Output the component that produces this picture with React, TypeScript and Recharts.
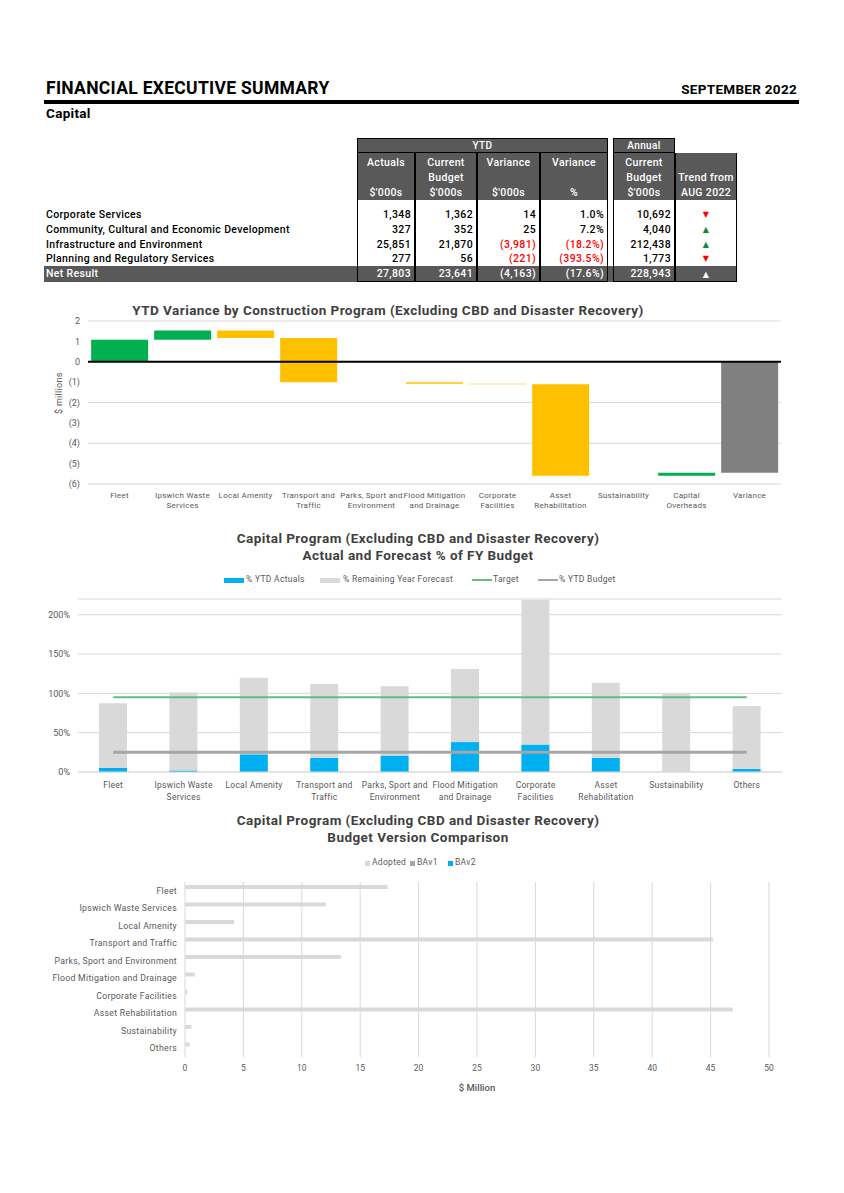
import React from 'react'
import {
  BarChart, Bar, ComposedChart, Line, XAxis, YAxis, CartesianGrid, ReferenceLine, Cell,
} from 'recharts'

// ---- table data ($'000s) ----
const rowLabels = [
  'Corporate Services',
  'Community, Cultural and Economic Development',
  'Infrastructure and Environment',
  'Planning and Regulatory Services',
]
const actuals = [1348, 327, 25851, 277]
const currentBudget = [1362, 352, 21870, 56]
const varianceAmt = [14, 25, -3981, -221]
const variancePct = [1.0, 7.2, -18.2, -393.5]
const annualBudget = [10692, 4040, 212438, 1773]
const trend = ['down', 'up', 'up', 'down']
const netResult = { actual: 27803, budget: 23641, variance: -4163, pct: -17.6, annual: 228943, trend: 'up' }

// ---- waterfall ($ millions) ----
const wfCategories = [
  'Fleet', 'Ipswich Waste Services', 'Local Amenity', 'Transport and Traffic',
  'Parks, Sport and Environment', 'Flood Mitigation and Drainage', 'Corporate Facilities',
  'Asset Rehabilitation', 'Sustainability', 'Capital Overheads', 'Variance',
]
const wfChange = [1.08, 0.45, -0.36, -2.17, -0.01, -0.07, -0.03, -4.49, 0, 0.15]

// ---- capital program % of FY budget ----
const progCategories = [
  'Fleet', 'Ipswich Waste Services', 'Local Amenity', 'Transport and Traffic',
  'Parks, Sport and Environment', 'Flood Mitigation and Drainage', 'Corporate Facilities',
  'Asset Rehabilitation', 'Sustainability', 'Others',
]
const ytdActualPct = [0.055, 0.02, 0.225, 0.18, 0.21, 0.38, 0.35, 0.18, 0, 0.04]
const remainingPct = [0.82, 0.99, 0.975, 0.94, 0.88, 0.93, 1.84, 0.955, 1.0, 0.8]
const targetPct = [0.95, 0.95, 0.95, 0.95, 0.95, 0.95, 0.95, 0.95, 0.95, 0.95]
const ytdBudgetPct = [0.25, 0.25, 0.25, 0.25, 0.25, 0.25, 0.25, 0.25, 0.25, 0.25]

// ---- budget versions ($ million) ----
const adopted = [17.35, 12.05, 4.2, 45.2, 13.35, 0.85, 0.2, 46.9, 0.55, 0.4]
const bav1 = [0, 0, 0, 0, 0, 0, 0, 0, 0, 0]
const bav2 = [0, 0, 0, 0, 0, 0, 0, 0, 0, 0]

const FONT = 'Roboto, "DejaVu Sans", sans-serif'
const DARK = '#595959'
const GREEN = '#00B050'
const AMBER = '#FFC000'
const BLUE = '#00B0F0'
const LIGHT = '#D9D9D9'
const MID = '#A6A6A6'

let cum = 0
const wfData = wfCategories.map((name, i) => {
  if (i === wfChange.length) {
    return { name, range: [Math.min(0, cum), Math.max(0, cum)], color: '#808080' }
  }
  const start = cum
  cum = cum + wfChange[i]
  return { name, range: [Math.min(start, cum), Math.max(start, cum)], color: wfChange[i] >= 0 ? GREEN : AMBER }
})

const progData = progCategories.map((name, i) => ({
  name, actual: ytdActualPct[i], remaining: remainingPct[i], target: targetPct[i], budget: ytdBudgetPct[i],
}))

const versionData = progCategories.map((name, i) => ({
  name, adopted: adopted[i], bav1: bav1[i], bav2: bav2[i],
}))

const fmtNum = (v: number) => (v < 0 ? `(${Math.abs(v).toLocaleString('en-US')})` : v.toLocaleString('en-US'))
const fmtPct = (v: number) => (v < 0 ? `(${Math.abs(v).toFixed(1)}%)` : `${v.toFixed(1)}%`)

function wrap(text: string, max: number) {
  const words = text.split(' ')
  const lines: string[] = []
  let cur = ''
  words.forEach(w => {
    const next = cur ? cur + ' ' + w : w
    if (next.length > max && cur) {
      lines.push(cur)
      cur = w
    } else cur = next
  })
  if (cur) lines.push(cur)
  return lines
}

const makeTick = (fontSize: number, lineH: number, firstDy: number) => (props: any) => {
  const { x, y, payload } = props
  return (
    <g transform={`translate(${x},${y})`}>
      {wrap(payload.value, 16).map((l, i) => (
        <text key={i} x={0} y={firstDy + i * lineH} textAnchor="middle" fontSize={fontSize}
          fill={DARK} fontFamily={FONT} letterSpacing={0.25}>{l}</text>
      ))}
    </g>
  )
}

const CategoryTick = (props: any) => {
  const { x, y, payload } = props
  return (
    <text x={x} y={y} dy={3} textAnchor="end" fontSize={8.7} fill={DARK} fontFamily={FONT} letterSpacing={0.3}>
      {payload.value}
    </text>
  )
}

const abs = (left: number, top: number, extra: React.CSSProperties = {}): React.CSSProperties => ({
  position: 'absolute', left, top, ...extra,
})

// table columns [left, right]
const cols = [[357, 415], [415, 477], [477, 540], [540, 608], [613, 675], [675, 737]]
const headLines = [
  ['Actuals', '', "$'000s"],
  ['Current', 'Budget', "$'000s"],
  ['Variance', '', "$'000s"],
  ['Variance', '', '%'],
  ['Current', 'Budget', "$'000s"],
  ['', 'Trend from', 'AUG 2022'],
]
const rowTops = [207, 221.8, 236.6, 251.4]

function Arrow({ dir, color, top }: { dir: string; color: string; top: number }) {
  return (
    <div style={abs(675, top, { width: 62, textAlign: 'center', fontSize: 8, color, lineHeight: '15px' })}>
      {dir === 'up' ? '▲' : '▼'}
    </div>
  )
}

function Table() {
  const cell = (text: string, c: number, top: number, color: string, h = 15) => (
    <div style={abs(cols[c][0], top, {
      width: cols[c][1] - cols[c][0] - 4, textAlign: 'right', lineHeight: `${h}px`, color,
    })}>{text}</div>
  )
  return (
    <div style={{ fontFamily: FONT, fontSize: 10.5, fontWeight: 500, letterSpacing: 0.35 }}>
      <div style={abs(357, 138, { width: 251, height: 15, background: DARK, boxSizing: 'border-box', border: '1px solid #000', color: '#fff', textAlign: 'center', lineHeight: '13px', fontSize: 10 })}>YTD</div>
      <div style={abs(613, 138, { width: 62, height: 15, background: DARK, boxSizing: 'border-box', border: '1px solid #000', color: '#fff', textAlign: 'center', lineHeight: '13px', fontSize: 10 })}>Annual</div>
      <div style={abs(44, 266, { width: 693, height: 16, background: DARK })} />
      {cols.map(([l, r], i) => (
        <div key={i} style={abs(l, 153, { width: r - l, height: 129, boxSizing: 'border-box', border: '1px solid #000', borderTop: 'none' })}>
          <div style={{ height: 47, background: DARK, color: '#fff', textAlign: 'center', paddingTop: 2, boxSizing: 'border-box', fontSize: 10.5 }}>
            {headLines[i].map((t, k) => <div key={k} style={{ height: 15, lineHeight: '15px' }}>{t}</div>)}
          </div>
        </div>
      ))}
      {rowLabels.map((label, r) => (
        <React.Fragment key={label}>
          <div style={abs(46, rowTops[r], { lineHeight: '15px', color: '#000' })}>{label}</div>
          {cell(fmtNum(actuals[r]), 0, rowTops[r], '#000')}
          {cell(fmtNum(currentBudget[r]), 1, rowTops[r], '#000')}
          {cell(fmtNum(varianceAmt[r]), 2, rowTops[r], varianceAmt[r] < 0 ? '#FF0000' : '#000')}
          {cell(fmtPct(variancePct[r]), 3, rowTops[r], variancePct[r] < 0 ? '#FF0000' : '#000')}
          {cell(fmtNum(annualBudget[r]), 4, rowTops[r], '#000')}
          <Arrow dir={trend[r]} color={trend[r] === 'up' ? '#118A2E' : '#FF0000'} top={rowTops[r]} />
        </React.Fragment>
      ))}
      <div style={abs(46, 266, { lineHeight: '16px', color: '#fff' })}>Net Result</div>
      {cell(fmtNum(netResult.actual), 0, 266, '#fff', 16)}
      {cell(fmtNum(netResult.budget), 1, 266, '#fff', 16)}
      {cell(fmtNum(netResult.variance), 2, 266, '#fff', 16)}
      {cell(fmtPct(netResult.pct), 3, 266, '#fff', 16)}
      {cell(fmtNum(netResult.annual), 4, 266, '#fff', 16)}
      <Arrow dir={netResult.trend} color="#fff" top={266.5} />
    </div>
  )
}

const titleStyle = (top: number, center = 418): React.CSSProperties => ({
  position: 'absolute', left: center - 400, top, width: 800, textAlign: 'center', fontFamily: FONT,
  fontWeight: 700, fontSize: 13.5, color: '#404040', lineHeight: '16.5px', letterSpacing: 0.45,
})

const legendText: React.CSSProperties = { fontFamily: FONT, fontSize: 8.5, color: DARK, letterSpacing: 0.3 }

export default function App() {
  return (
    <div style={{ position: 'absolute', left: 0, top: 0, width: 844, height: 1193, background: '#fff', fontFamily: FONT }}>
      {/* page header */}
      <div style={abs(46, 78, { fontSize: 17.5, fontWeight: 700, color: '#000', letterSpacing: 0.3 })}>FINANCIAL EXECUTIVE SUMMARY</div>
      <div style={abs(560, 81, { width: 237, textAlign: 'right', fontSize: 13.5, fontWeight: 700, color: '#000', letterSpacing: 0.3 })}>SEPTEMBER 2022</div>
      <div style={abs(44, 100, { width: 755, height: 4, background: '#000' })} />
      <div style={abs(46, 105, { fontSize: 13.5, fontWeight: 700, color: '#000', letterSpacing: 0.3 })}>Capital</div>

      <Table />

      {/* waterfall */}
      <div style={titleStyle(302, 388)}>YTD Variance by Construction Program (Excluding CBD and Disaster Recovery)</div>
      <div style={abs(54, 414, { transform: 'rotate(-90deg)', transformOrigin: 'left top', fontSize: 9, color: DARK, letterSpacing: 0.3, width: 60, lineHeight: '11px' })}>$ millions</div>
      <div style={abs(30, 315)}>
        <BarChart width={760} height={205} data={wfData} margin={{ top: 6, right: 9, left: 0, bottom: 0 }} barCategoryGap="5%">
          <CartesianGrid vertical={false} stroke={LIGHT} />
          <XAxis dataKey="name" axisLine={false} tickLine={false} tickSize={0} tickMargin={0} height={36}
            interval={0} tick={makeTick(8, 10, 14)} />
          <YAxis width={58} domain={[-6, 2]} ticks={[-6, -5, -4, -3, -2, -1, 0, 1, 2]} axisLine={false} tickLine={false}
            tickFormatter={(v: number) => (v < 0 ? `(${-v})` : `${v}`)}
            tick={{ fontSize: 9, fill: DARK, fontFamily: FONT }} />
          <Bar dataKey="range" isAnimationActive={false}>
            {wfData.map((d, i) => <Cell key={i} fill={d.color} />)}
          </Bar>
          <ReferenceLine y={0} stroke="#000" strokeWidth={2} />
        </BarChart>
      </div>

      {/* capital program % */}
      <div style={titleStyle(530)}>Capital Program (Excluding CBD and Disaster Recovery)<br />Actual and Forecast % of FY Budget</div>
      <div style={abs(0, 574, { width: 844, height: 12 })}>
        <div style={abs(224, 3.5, { width: 20, height: 5, background: BLUE })} />
        <div style={abs(246, 0, legendText)}>% YTD Actuals</div>
        <div style={abs(320, 3.5, { width: 20, height: 5, background: LIGHT })} />
        <div style={abs(343, 0, legendText)}>% Remaining Year Forecast</div>
        <div style={abs(472, 5, { width: 20, height: 2, background: '#63BE7B' })} />
        <div style={abs(493, 0, legendText)}>Target</div>
        <div style={abs(538, 5, { width: 20, height: 2, background: MID })} />
        <div style={abs(559, 0, legendText)}>% YTD Budget</div>
      </div>
      <div style={abs(20, 590)}>
        <ComposedChart width={770} height={220} data={progData} margin={{ top: 9, right: 8, left: 0, bottom: 0 }}>
          <CartesianGrid vertical={false} stroke={LIGHT} />
          <XAxis dataKey="name" axisLine={{ stroke: LIGHT }} tickLine={false} tickSize={0} tickMargin={0} height={38}
            interval={0} tick={makeTick(8.5, 12, 16)} />
          <YAxis width={58} domain={[0, 2.2]} ticks={[0, 0.5, 1, 1.5, 2]} axisLine={false} tickLine={false}
            allowDataOverflow tickFormatter={(v: number) => `${Math.round(v * 100)}%`}
            tick={{ fontSize: 9, fill: DARK, fontFamily: FONT }} />
          <Bar dataKey="actual" stackId="p" fill={BLUE} barSize={28} isAnimationActive={false} />
          <Bar dataKey="remaining" stackId="p" fill={LIGHT} barSize={28} isAnimationActive={false} />
          <Line dataKey="target" stroke="#63BE7B" strokeWidth={2} dot={false} isAnimationActive={false} />
          <Line dataKey="budget" stroke={MID} strokeWidth={3} dot={false} isAnimationActive={false} />
        </ComposedChart>
      </div>

      {/* budget version comparison */}
      <div style={titleStyle(812)}>Capital Program (Excluding CBD and Disaster Recovery)<br />Budget Version Comparison</div>
      <div style={abs(0, 857, { width: 844, height: 12 })}>
        <div style={abs(365, 4, { width: 5, height: 5, background: LIGHT })} />
        <div style={abs(372, 0, legendText)}>Adopted</div>
        <div style={abs(410, 4, { width: 5, height: 5, background: MID })} />
        <div style={abs(417, 0, legendText)}>BAv1</div>
        <div style={abs(448, 4, { width: 5, height: 5, background: BLUE })} />
        <div style={abs(455, 0, legendText)}>BAv2</div>
      </div>
      <div style={abs(10, 875)}>
        <BarChart width={770} height={202} data={versionData} layout="vertical"
          margin={{ top: 7, right: 11, left: 0, bottom: 0 }} barGap={0} barCategoryGap={0}>
          <CartesianGrid horizontal={false} stroke={LIGHT} />
          <XAxis type="number" domain={[0, 50]} ticks={[0, 5, 10, 15, 20, 25, 30, 35, 40, 45, 50]}
            axisLine={false} tickLine={false} height={20}
            tick={{ fontSize: 8.5, fill: DARK, fontFamily: FONT }} />
          <YAxis type="category" dataKey="name" width={175} axisLine={false} tickLine={false} interval={0}
            tick={CategoryTick} />
          <Bar dataKey="adopted" fill={LIGHT} barSize={4} isAnimationActive={false} />
          <Bar dataKey="bav1" fill={MID} barSize={4} isAnimationActive={false} />
          <Bar dataKey="bav2" fill={BLUE} barSize={4} isAnimationActive={false} />
        </BarChart>
      </div>
      <div style={abs(0, 1082, { width: 954, textAlign: 'center', fontSize: 9.5, fontWeight: 500, color: DARK })}>$ Million</div>
    </div>
  )
}
